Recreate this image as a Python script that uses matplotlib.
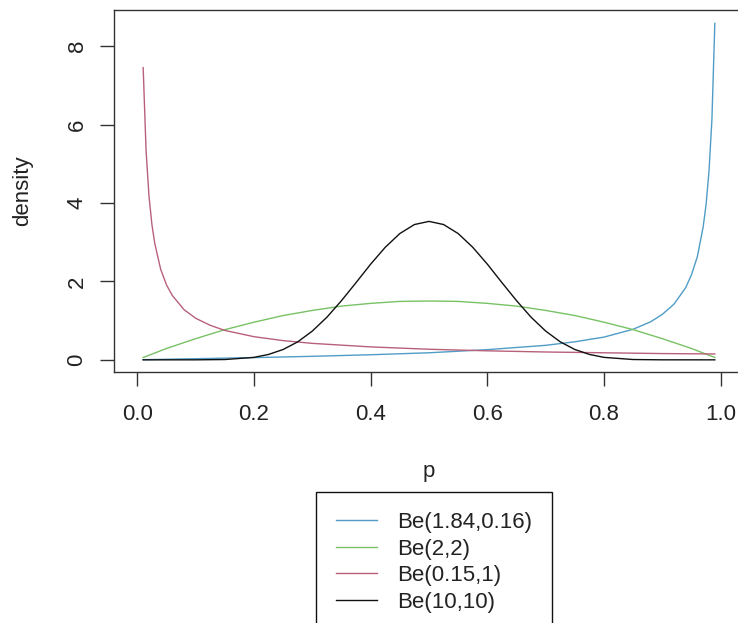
import matplotlib
matplotlib.use('Agg')
import matplotlib.pyplot as plt

# values
p_blue = [0.01, 0.1, 0.2, 0.3, 0.4, 0.5, 0.6, 0.7, 0.75, 0.8, 0.85, 0.88,
          0.9, 0.92, 0.94, 0.95, 0.96, 0.97, 0.975, 0.98, 0.985, 0.99]
d_blue = [0.004, 0.029, 0.057, 0.090, 0.13, 0.18, 0.26, 0.37, 0.46, 0.58, 0.78, 0.97,
          1.16, 1.42, 1.84, 2.17, 2.63, 3.39, 3.96, 4.81, 6.13, 8.58]

p_green = [0.01, 0.05, 0.1, 0.15, 0.2, 0.25, 0.3, 0.35, 0.4, 0.45, 0.5,
           0.55, 0.6, 0.65, 0.7, 0.75, 0.8, 0.85, 0.9, 0.95, 0.99]
d_green = [0.06, 0.29, 0.54, 0.77, 0.96, 1.13, 1.26, 1.37, 1.44, 1.49, 1.50,
           1.49, 1.44, 1.37, 1.26, 1.13, 0.96, 0.77, 0.54, 0.29, 0.06]

p_red = [0.01, 0.015, 0.02, 0.025, 0.03, 0.04, 0.05, 0.06, 0.08, 0.1, 0.125,
         0.15, 0.2, 0.25, 0.3, 0.4, 0.5, 0.6, 0.7, 0.8, 0.9, 0.99]
d_red = [7.45, 5.33, 4.17, 3.45, 2.96, 2.31, 1.91, 1.64, 1.28, 1.06, 0.88,
         0.75, 0.59, 0.49, 0.42, 0.33, 0.27, 0.23, 0.20, 0.18, 0.16, 0.15]

p_black = [0.01, 0.1, 0.15, 0.2, 0.225, 0.25, 0.275, 0.3, 0.325, 0.35, 0.375,
           0.4, 0.425, 0.45, 0.475, 0.5, 0.525, 0.55, 0.575, 0.6, 0.625, 0.65,
           0.675, 0.7, 0.725, 0.75, 0.775, 0.8, 0.85, 0.9, 0.99]
d_black = [0.0, 0.0004, 0.008, 0.063, 0.138, 0.264, 0.459, 0.734, 1.087, 1.51, 1.97,
           2.44, 2.87, 3.22, 3.45, 3.53, 3.45, 3.22, 2.87, 2.44, 1.97, 1.51,
           1.087, 0.734, 0.459, 0.264, 0.138, 0.063, 0.008, 0.0004, 0.0]

labels = ['Be(1.84,0.16)', 'Be(2,2)', 'Be(0.15,1)', 'Be(10,10)']
colors = ['#4f9dc6', '#78c265', '#b8607a', '#111111']
x_ticks = [0.0, 0.2, 0.4, 0.6, 0.8, 1.0]
y_ticks = [0, 2, 4, 6, 8]

plt.rcParams['font.family'] = ['Liberation Sans', 'DejaVu Sans']
plt.rcParams['font.size'] = 16

W, H = 738, 623
fig = plt.figure(figsize=(W / 100, H / 100), dpi=100)
# box right edge runs past the figure, like the cropped original
ax = fig.add_axes([114 / W, 1 - 372 / H, 630 / W, 362 / H])

series = [(p_blue, d_blue), (p_green, d_green), (p_red, d_red), (p_black, d_black)]
for (p, d), c, lab in zip(series, colors, labels):
    ax.plot(p, d, color=c, lw=1.0, label=lab)

ax.set_xlim(-0.04, 1.04)
ax.set_ylim(-0.31, 8.92)
ax.set_xticks(x_ticks)
ax.set_xticklabels(['%.1f' % v for v in x_ticks])
ax.set_yticks(y_ticks)
ax.set_yticklabels([str(v) for v in y_ticks])
for s in ax.spines.values():
    s.set_color('#333333')
    s.set_linewidth(1.0)
ax.tick_params(direction='out', length=10, width=1.0, color='#333333',
               labelcolor='#222222')
ax.tick_params(axis='x', pad=13)
ax.tick_params(axis='y', pad=9)
plt.setp(ax.get_yticklabels(), rotation=90, va='center')

fig.text(23 / W, 1 - 191 / H, 'density', rotation=90, ha='center', va='center',
         color='#222222')
fig.text(429 / W, 1 - 472 / H, 'p', ha='center', va='center', color='#222222')

# legend hangs off the bottom edge, as in the original
leg = ax.legend(loc='upper left', bbox_to_anchor=(316 / W, 1 - 492 / H),
                bbox_transform=fig.transFigure, borderaxespad=0,
                fancybox=False, framealpha=1, edgecolor='#111111',
                handlelength=1.83, handletextpad=0.9, borderpad=0.9,
                labelspacing=0.25, fontsize=16)
leg.get_frame().set_linewidth(1.0)
for t in leg.get_texts():
    t.set_color('#222222')

fig.savefig('out.png', dpi=100)
